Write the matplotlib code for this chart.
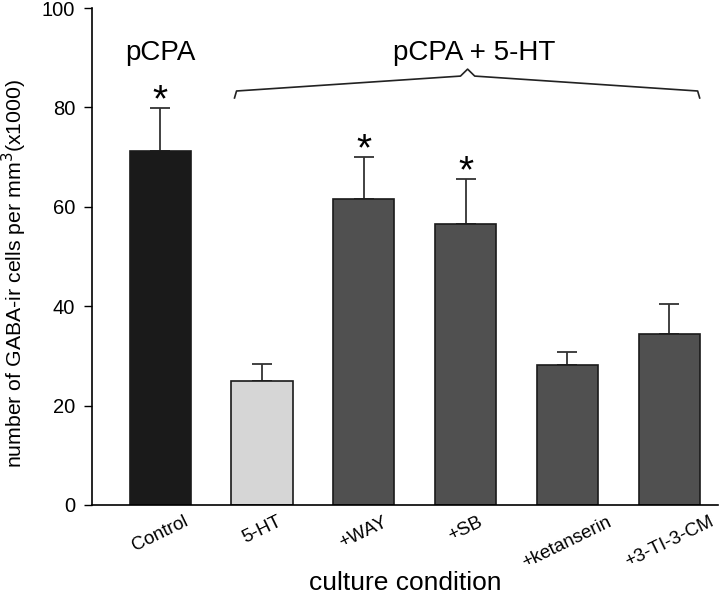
import numpy as np
import matplotlib
matplotlib.use("Agg")
import matplotlib.pyplot as plt

plt.rcParams['font.family'] = ['Liberation Sans', 'DejaVu Sans']

conditions = ["Control", "5-HT", "+WAY", "+SB", "+ketanserin", "+3-TI-3-CM"]
means = [71.3, 24.9, 61.6, 56.5, 28.2, 34.4]
sems = [8.6, 3.5, 8.4, 9.1, 2.6, 6.1]
signif = [True, False, True, True, False, False]
colors = ['#1a1a1a', '#d6d6d6', '#505050', '#505050', '#505050', '#505050']

fig = plt.figure(figsize=(7.2, 6), dpi=100)
ax = fig.add_axes([92/720, 1 - 505/600, (718 - 92)/720, (505 - 8)/600])

x = np.arange(len(conditions))
ax.bar(x, means, width=0.6, color=colors, edgecolor='#1a1a1a', linewidth=1.2, zorder=2)
ax.errorbar(x, means, yerr=[np.zeros(len(sems)), sems], fmt='none', ecolor='#333333',
            elinewidth=1.3, capsize=7, capthick=1.3, zorder=1)

for i in range(len(x)):
    if signif[i]:
        ax.text(x[i], means[i] + sems[i] - 2.2, '*', ha='center', va='bottom', fontsize=28)

ax.set_xlim(-0.67, 5.48)
ax.set_ylim(0, 100)
ax.set_yticks([0, 20, 40, 60, 80, 100])
ax.tick_params(axis='y', labelsize=14.5, direction='out', length=6, width=1, pad=6)
ax.tick_params(axis='x', length=0, pad=6)
ax.set_xticks(x)
ax.set_xticklabels(conditions, rotation=26, ha='center', fontsize=13.5)
ax.spines['top'].set_visible(False)
ax.spines['right'].set_visible(False)
ax.spines['left'].set_linewidth(1.2)
ax.spines['bottom'].set_linewidth(1.2)

ax.set_ylabel('number of GABA-ir cells per mm$^3$(x1000)', fontsize=15.3)
ax.yaxis.set_label_coords(-0.1, 0.465)
ax.set_xlabel('culture condition', fontsize=19, labelpad=0)

# group labels
ax.text(0, 91, 'pCPA', ha='center', va='center', fontsize=20)
ax.text(3.08, 91, 'pCPA + 5-HT', ha='center', va='center', fontsize=20)

# curly bracket over the 5-HT group
bx = [0.73, 0.75, 2.95, 3.02, 3.09, 5.28, 5.30]
by = [81.9, 83.3, 86.3, 87.7, 86.3, 83.3, 81.9]
ax.plot(bx, by, color='#222222', linewidth=1.2, clip_on=False)

fig.savefig("out.png", dpi=100)
